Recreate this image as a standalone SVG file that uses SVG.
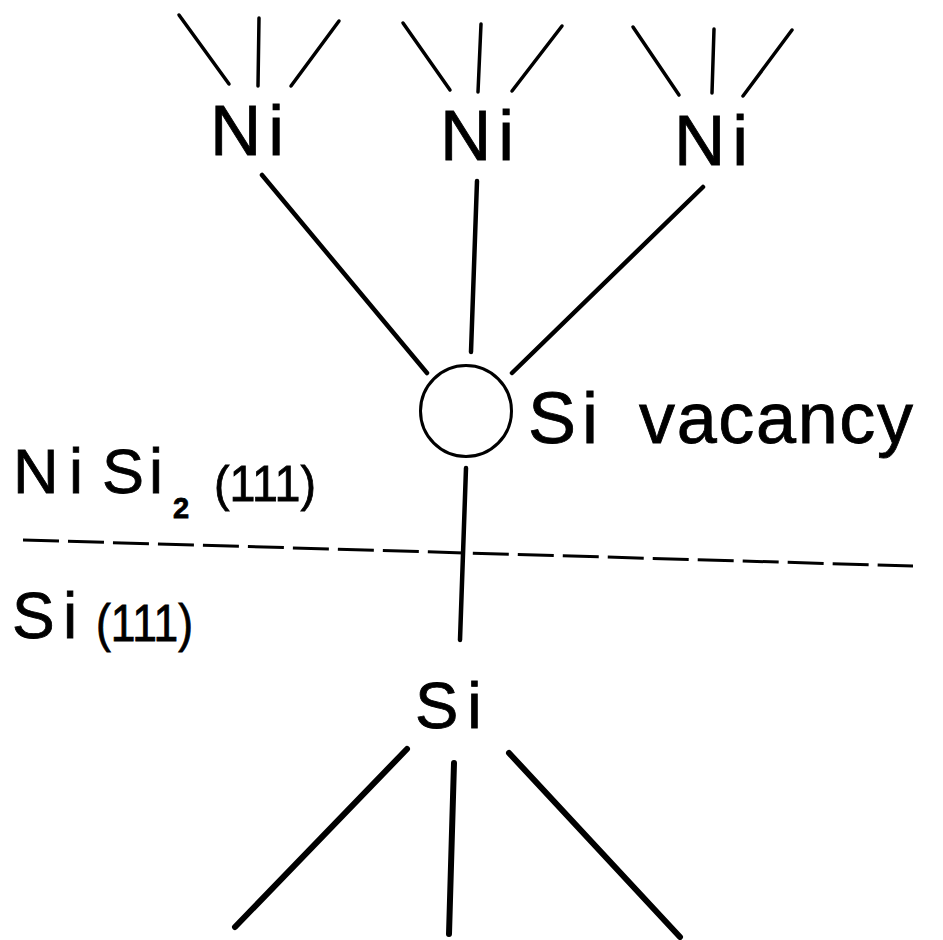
<svg xmlns="http://www.w3.org/2000/svg" width="943" height="940" viewBox="0 0 943 940">
  <style>
    .t { font-family: "Liberation Sans", Arial, sans-serif; fill: #000; stroke: #000; stroke-width: 0.8; }
    .ni { font-size: 71px; letter-spacing: 7px; }
    .bond { stroke: #000; stroke-linecap: round; fill: none; }
    .short { stroke-width: 3.5; }
    .long { stroke-width: 4.5; }
    .low { stroke-width: 6; }
  </style>
  <rect width="943" height="940" fill="#fff"/>

  <g id="connectors" class="bond">
    <!-- short bonds above Ni atoms -->
    <line class="short" x1="179" y1="15" x2="229" y2="84"/>
    <line class="short" x1="259" y1="18" x2="258" y2="86"/>
    <line class="short" x1="339" y1="21" x2="291" y2="86"/>
    <line class="short" x1="403" y1="23" x2="450" y2="90"/>
    <line class="short" x1="481" y1="24" x2="478" y2="92"/>
    <line class="short" x1="562" y1="26" x2="512" y2="91"/>
    <line class="short" x1="633" y1="27" x2="679" y2="95"/>
    <line class="short" x1="714" y1="29" x2="712" y2="93"/>
    <line class="short" x1="792" y1="30" x2="743" y2="96"/>
    <!-- Ni to vacancy -->
    <line class="long" x1="262" y1="175" x2="427" y2="373"/>
    <line class="long" x1="477" y1="181" x2="471" y2="352"/>
    <line class="long" x1="703" y1="187" x2="512" y2="373"/>
    <!-- vacancy to Si -->
    <line class="long" x1="466" y1="468" x2="460" y2="640"/>
    <!-- bonds below Si -->
    <line class="low" x1="407" y1="749" x2="235" y2="927"/>
    <line class="low" x1="454" y1="763" x2="449" y2="934"/>
    <line class="low" x1="509" y1="753" x2="680" y2="937"/>
  </g>

  <g id="interface">
    <line x1="23" y1="540" x2="913" y2="566" stroke="#000" stroke-width="3" stroke-dasharray="36 9"/>
  </g>

  <g id="ni1"><text class="t ni" x="210" y="155">Ni</text></g>
  <g id="ni2"><text class="t ni" x="440" y="160">Ni</text></g>
  <g id="ni3"><text class="t ni" x="674" y="165">Ni</text></g>

  <g id="vacancy">
    <circle cx="466" cy="411" r="45.5" fill="none" stroke="#000" stroke-width="3"/>
    <text class="t" font-size="72" x="528" y="443"><tspan letter-spacing="6">Si</tspan><tspan x="639" textLength="274" lengthAdjust="spacing">vacancy</tspan></text>
  </g>

  <g id="si">
    <text class="t" font-size="65" x="415" y="728" letter-spacing="9">Si</text>
  </g>

  <g id="label-nisi2">
    <text class="t" font-size="63" y="493"><tspan x="13">N</tspan><tspan x="69">i</tspan><tspan x="102">S</tspan><tspan x="149">i</tspan></text>
    <text class="t" font-size="29" font-weight="bold" x="173" y="518">2</text>
    <text class="t" font-size="50" x="214" y="501" textLength="102" lengthAdjust="spacingAndGlyphs">(111)</text>
  </g>

  <g id="label-si111">
    <text class="t" font-size="64" y="638"><tspan x="12">S</tspan><tspan x="63">i</tspan></text>
    <text class="t" font-size="51" x="96" y="641" textLength="97" lengthAdjust="spacingAndGlyphs">(111)</text>
  </g>
</svg>
